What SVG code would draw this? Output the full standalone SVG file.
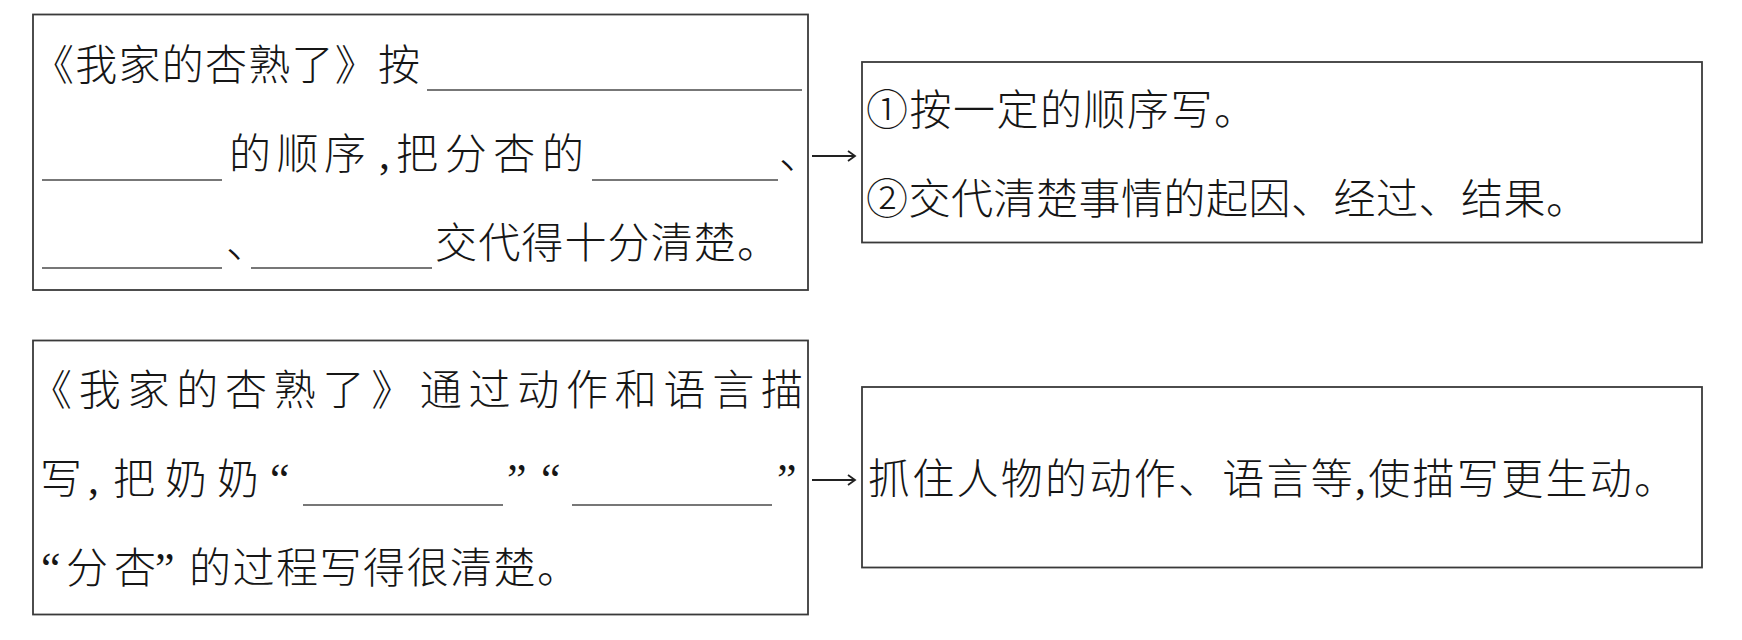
<svg xmlns="http://www.w3.org/2000/svg" width="1742" height="640" viewBox="0 0 1742 640">
<style>
.box{fill:none;stroke:#3a3a3a;stroke-width:1.8}
.t{font-family:"Noto Sans CJK SC","Noto Sans",sans-serif;font-size:42px;font-weight:300;fill:#161616}
.q{font-family:"Liberation Serif","Noto Sans CJK SC",serif;font-size:44px;fill:#161616}
.ul{stroke:#4a4a4a;stroke-width:1.6}
.con{stroke:#222;stroke-width:1.8;fill:none}
</style>
<defs>
<marker id="ah" markerUnits="userSpaceOnUse" markerWidth="14" markerHeight="14" refX="10" refY="7" orient="auto">
<path d="M3,2 L10,7 L3,12" fill="none" stroke="#222" stroke-width="1.8"/>
</marker>
</defs>
<rect width="1742" height="640" fill="#ffffff"/>
<g id="node-q1">
<rect class="box" x="33" y="14.5" width="775" height="275.5"/>
<text class="t" x="32" y="80" textLength="388" lengthAdjust="spacing">《我家的杏熟了》按</text>
<line class="ul" x1="427" y1="90" x2="802" y2="90"/>
<line class="ul" x1="42" y1="180" x2="222" y2="180"/>
<text class="t" x="229" y="169" textLength="137" lengthAdjust="spacing">的顺序</text>
<text class="q" x="379" y="169">,</text>
<text class="t" x="396" y="169" textLength="188" lengthAdjust="spacing">把分杏的</text>
<line class="ul" x1="592" y1="180" x2="778" y2="180"/>
<text class="t" x="779" y="169">、</text>
<line class="ul" x1="42" y1="268" x2="222" y2="268"/>
<text class="t" x="226" y="258">、</text>
<line class="ul" x1="251" y1="268" x2="432" y2="268"/>
<text class="t" x="435" y="258" textLength="344" lengthAdjust="spacing">交代得十分清楚。</text>
</g>
<g id="node-a1">
<rect class="box" x="862" y="62" width="840" height="180.5"/>
<text class="t" x="866" y="125" textLength="390" lengthAdjust="spacing">①按一定的顺序写。</text>
<text class="t" x="866" y="214" textLength="722" lengthAdjust="spacing">②交代清楚事情的起因、经过、结果。</text>
</g>
<g id="node-q2">
<rect class="box" x="33" y="340.5" width="775" height="274"/>
<text class="t" x="30" y="405" textLength="773" lengthAdjust="spacing">《我家的杏熟了》通过动作和语言描</text>
<text class="t" x="40" y="494">写</text>
<text class="q" x="88" y="494">,</text>
<text class="t" x="113" y="494" textLength="146" lengthAdjust="spacing">把奶奶</text>
<text class="q" x="270" y="494">“</text>
<line class="ul" x1="303" y1="505" x2="503" y2="505"/>
<text class="q" x="507" y="494">”</text>
<text class="q" x="541" y="494">“</text>
<line class="ul" x1="572" y1="505" x2="772" y2="505"/>
<text class="q" x="777" y="494">”</text>
<text class="q" x="41" y="583">“</text>
<text class="t" x="66" y="583" textLength="90" lengthAdjust="spacing">分杏</text>
<text class="q" x="155" y="583">”</text>
<text class="t" x="189" y="583" textLength="390" lengthAdjust="spacing">的过程写得很清楚。</text>
</g>
<g id="node-a2">
<rect class="box" x="862" y="387" width="840" height="180.5"/>
<text class="t" x="868" y="494" textLength="808" lengthAdjust="spacing">抓住人物的动作、语言等<tspan class="q">,</tspan>使描写更生动。</text>
</g>
<g id="connectors">
<line class="con" x1="812" y1="156" x2="855" y2="156" marker-end="url(#ah)"/>
<line class="con" x1="812" y1="480" x2="855" y2="480" marker-end="url(#ah)"/>
</g>
</svg>
